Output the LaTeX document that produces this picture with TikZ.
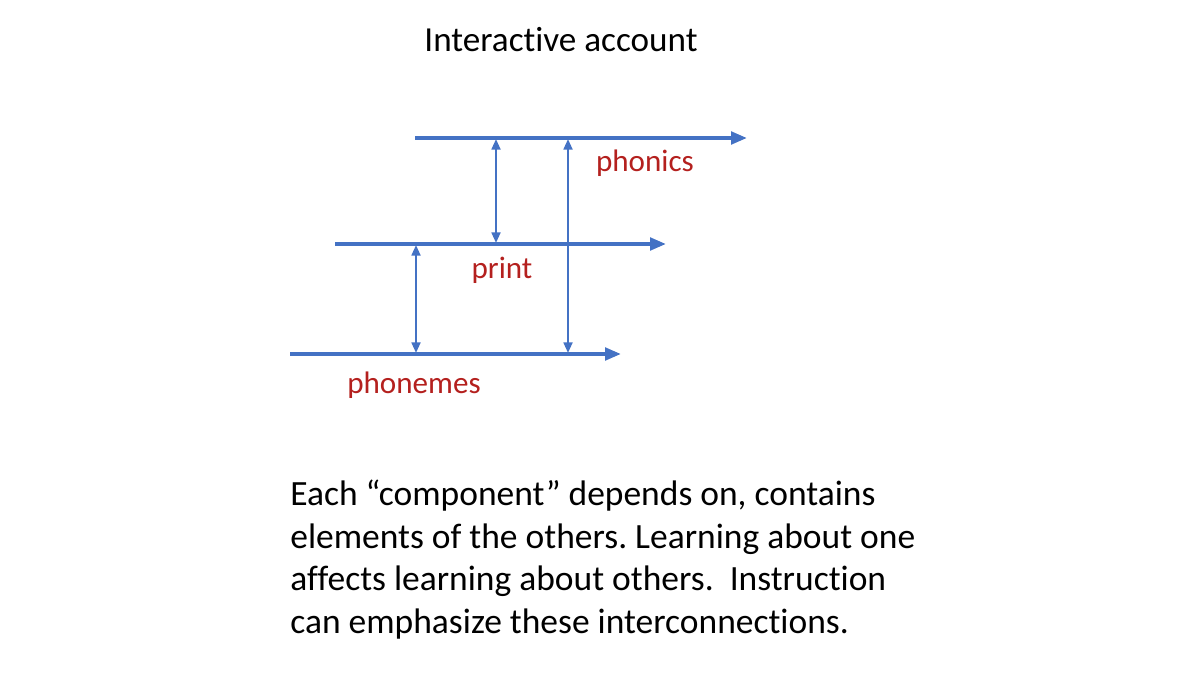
\documentclass[tikz,border=0pt]{standalone}
\usepackage{fontspec}
\setmainfont[Ligatures=NoCommon]{Carlito}
\usepackage{xcolor}
\definecolor{lineBlue}{RGB}{68,114,196}
\definecolor{labelRed}{RGB}{180,32,30}
\usetikzlibrary{arrows.meta}
\frenchspacing

\begin{document}
\begin{tikzpicture}[
    x=0.02cm, y=-0.02cm,
    track/.style={-{Triangle[length=9pt,width=7pt]},draw=lineBlue,line width=2.1pt},
    link/.style={{Triangle[length=6pt,width=5pt]}-{Triangle[length=6pt,width=5pt]},
                 draw=lineBlue,line width=1.3pt},
    lbl/.style={text=labelRed,font=\fontsize{17.7}{21}\selectfont,inner sep=0pt},
  ]
    \useasboundingbox (0,0) rectangle (1200,675);

    \node[font=\fontsize{20}{24}\selectfont] (title) at (561,40) {Interactive account};

    % the three tracks
    \coordinate (phonicsA)  at (415,138);
    \coordinate (phonicsB)  at (747,138);
    \coordinate (printA)    at (335,244);
    \coordinate (printB)    at (666,244);
    \coordinate (phonemesA) at (290,354);
    \coordinate (phonemesB) at (621,354);

    \draw[track] (phonicsA)  -- (phonicsB);
    \draw[track] (printA)    -- (printB);
    \draw[track] (phonemesA) -- (phonemesB);

    % links between tracks
    \coordinate (l1top) at (496,139);  \coordinate (l1bot) at (496,243);
    \coordinate (l2top) at (568,139);  \coordinate (l2bot) at (568,353);
    \coordinate (l3top) at (416,245);  \coordinate (l3bot) at (416,353);

    \draw[link] (l1top) -- (l1bot);
    \draw[link] (l2top) -- (l2bot);
    \draw[link] (l3top) -- (l3bot);

    \node[lbl] (phonics)  at (645,163) {phonics};
    \node[lbl] (print)    at (502,270) {print};
    \node[lbl] (phonemes) at (414,385) {phonemes};

    \node[anchor=north west,align=left,inner sep=0pt,
          font=\fontsize{20.2}{24.2}\selectfont] (note) at (290,480)
      {Each “component” depends on, contains\\
       elements of the others. Learning about one\\
       affects learning about others.\ \ Instruction\\
       can emphasize these interconnections.};
  \end{tikzpicture}
\end{document}
